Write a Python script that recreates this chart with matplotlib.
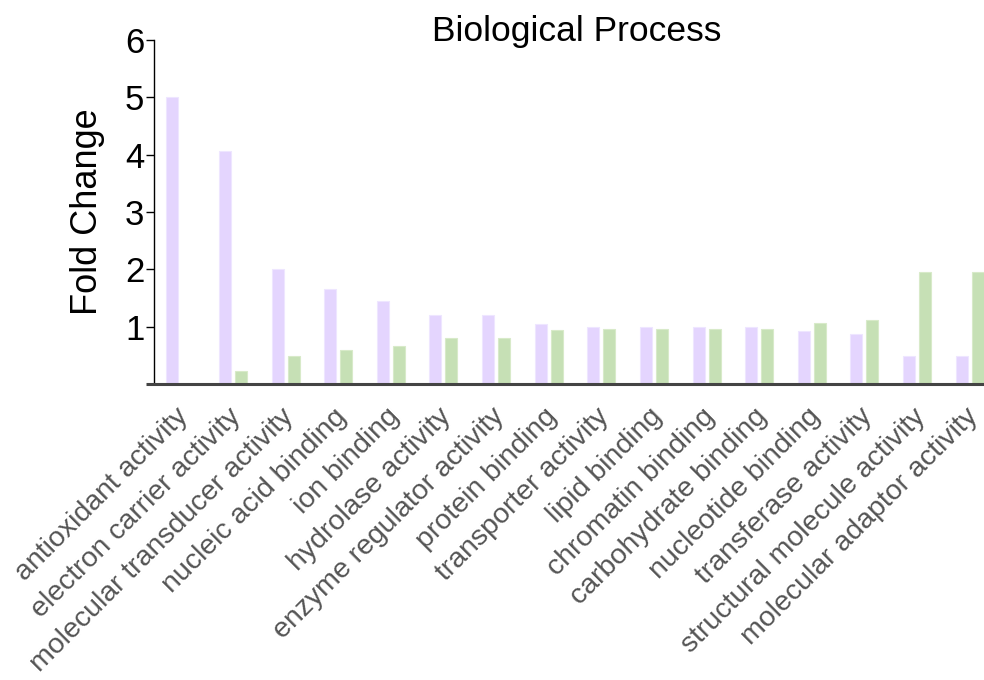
import matplotlib
matplotlib.use("Agg")
import matplotlib.pyplot as plt
import matplotlib.transforms as mtransforms
import numpy as np

plt.rcParams['font.family'] = ['Liberation Sans', 'DejaVu Sans']

categories = [
    "antioxidant activity", "electron carrier activity",
    "molecular transducer activity", "nucleic acid binding", "ion binding",
    "hydrolase activity", "enzyme regulator activity", "protein binding",
    "transporter activity", "lipid binding", "chromatin binding",
    "carbohydrate binding", "nucleotide binding", "transferase activity",
    "structural molecule activity", "molecular adaptor activity",
]
purple_values = [5.00, 4.06, 2.01, 1.65, 1.45, 1.20, 1.20, 1.05,
                 0.99, 0.99, 0.99, 0.99, 0.92, 0.87, 0.49, 0.49]
green_values = [0.00, 0.23, 0.49, 0.59, 0.67, 0.81, 0.81, 0.94,
                0.96, 0.96, 0.96, 0.96, 1.07, 1.12, 1.95, 1.95]
y_ticks = [1, 2, 3, 4, 5, 6]

W, H = 984, 680
fig = plt.figure(figsize=(W / 100, H / 100), dpi=100)
left, right, top, bottom = 154, 996, 40, 384
ax = fig.add_axes([left / W, 1 - bottom / H, (right - left) / W, (bottom - top) / H])

x = np.arange(len(categories))
bw = 0.23
off = 0.152
ax.bar(x - off, purple_values, width=bw, color="#E4D5FE",
       edgecolor="#EEE6FF", linewidth=0.8)
ax.bar(x + off, green_values, width=bw, color="#C6E0B5",
       edgecolor="#D8EAC9", linewidth=0.8)

ax.set_xlim(-0.5, len(categories) - 0.5)
ax.set_ylim(0, 6)

for s in ("top", "right", "bottom"):
    ax.spines[s].set_visible(False)
ax.spines["left"].set_color("black")
ax.spines["left"].set_linewidth(1.0)

# baseline drawn slightly past the left spine
trans = mtransforms.blended_transform_factory(ax.transAxes, ax.transData)
ax.plot([-8 / (right - left), 1.0], [0, 0], transform=trans, color="#444444",
        linewidth=2.2, clip_on=False, solid_capstyle="butt", zorder=5)

ax.set_yticks(y_ticks)
ax.set_yticklabels([str(t) for t in y_ticks], fontsize=25, color="black")
ax.tick_params(axis="y", length=6, width=1.0, pad=1, colors="black")

ax.set_xticks(x)
ax.set_xticklabels(categories, rotation=45, ha="right", rotation_mode="anchor",
                   fontsize=20.5, color="#555555")
ax.tick_params(axis="x", length=0, pad=14)
shift = mtransforms.ScaledTranslation(-5 / 100, 0, fig.dpi_scale_trans)
for lab in ax.get_xticklabels():
    lab.set_transform(lab.get_transform() + shift)

ax.set_ylabel("Fold Change", fontsize=26, labelpad=14)
fig.text(577 / W, 1 - 31 / H, "Biological Process", fontsize=25.5,
         ha="center", va="center")

fig.savefig("out.png", dpi=100)
